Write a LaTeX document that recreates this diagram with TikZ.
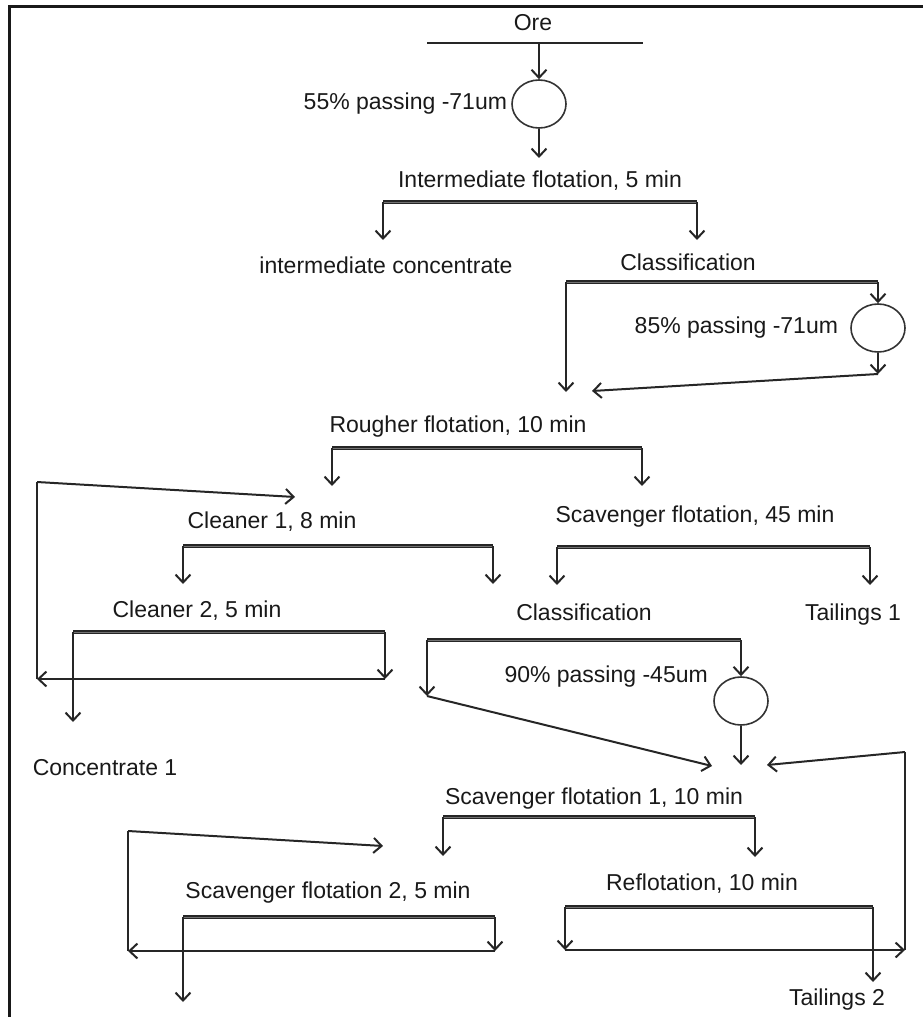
\documentclass[tikz,border=0pt]{standalone}
\usepackage{fontspec}
\setmainfont{Liberation Sans}
\usetikzlibrary{arrows.meta,shapes.geometric,positioning}

\tikzset{
  lbl/.style={font=\fontsize{23}{26}\selectfont, text=black!90, inner sep=0pt, text height=16.5pt, text depth=4.8pt},
  bar/.style={draw=black!85, double=black!55, double distance=1pt, line width=1.4pt},
  flow/.style={draw=black!85, line width=2pt},
  mill/.style={draw=black!80, line width=1.6pt, ellipse, minimum width=54pt, minimum height=48pt, inner sep=0pt},
}

\begin{document}
\begin{tikzpicture}[x=1pt, y=-1pt, >={Straight Barb[length=8pt,width=15pt]}]
    \useasboundingbox (0,0) rectangle (923,1017);
    \draw[line width=3pt, black!90] (9,1017) -- (9,6) -- (923,6);

    % ore and first grinding
    \node[lbl] (ore) at (533,25) {Ore};
    \coordinate (oreL) at (427,43);
    \coordinate (oreR) at (643,43);
    \coordinate (oreC) at (539,43);
    \draw[flow] (oreL) -- (oreR);
    \node[mill] (mill1) at (539,104) {};
    \node[lbl, left=4pt of mill1] (grind1) {55\% passing -71um};
    \coordinate (intIn) at (539,158);
    \draw[flow, ->] (oreC) -- (mill1);
    \draw[flow, ->] (mill1) -- (intIn);

    % intermediate flotation
    \node[lbl] (intFl) at (540,182) {Intermediate flotation, 5 min};
    \coordinate (intL) at (383,202);
    \coordinate (intR) at (697,202);
    \coordinate (intLo) at (383,240);
    \coordinate (intRo) at (697,240);
    \draw[bar] (intL) -- (intR);
    \draw[flow, ->] (intL) -- (intLo);
    \draw[flow, ->] (intR) -- (intRo);
    \node[lbl] (intConc) at (386,268) {intermediate concentrate};
    \node[lbl] (classA) at (688,265) {Classification};

    \coordinate (clAL) at (566,282);
    \coordinate (clAR) at (878,282);
    \coordinate (clALo) at (566,392);
    \draw[bar] (clAL) -- (clAR);
    \draw[flow, ->] (clAL) -- (clALo);
    \node[mill] (mill2) at (878,328) {};
    \node[lbl, left=12pt of mill2] (grind2) {85\% passing -71um};
    \coordinate (mill2o) at (878,374);
    \coordinate (rghIn) at (592,391);
    \draw[flow, ->] (clAR) -- (mill2);
    \draw[flow, ->] (mill2) -- (mill2o);
    \draw[flow, ->] (mill2o) -- (rghIn);

    % rougher flotation
    \node[lbl] (rgh) at (458,427) {Rougher flotation, 10 min};
    \coordinate (rghL) at (332,448);
    \coordinate (rghR) at (642,448);
    \coordinate (rghLo) at (332,486);
    \coordinate (rghRo) at (642,486);
    \draw[bar] (rghL) -- (rghR);
    \draw[flow, ->] (rghL) -- (rghLo);
    \draw[flow, ->] (rghR) -- (rghRo);

    % cleaners
    \node[lbl] (cln1) at (272,523) {Cleaner 1, 8 min};
    \coordinate (c1L) at (183,546);
    \coordinate (c1R) at (493,546);
    \coordinate (c1Lo) at (183,584);
    \coordinate (c1Ro) at (493,584);
    \draw[bar] (c1L) -- (c1R);
    \draw[flow, ->] (c1L) -- (c1Lo);
    \draw[flow, ->] (c1R) -- (c1Ro);

    \node[lbl] (cln2) at (197,612) {Cleaner 2, 5 min};
    \coordinate (c2L) at (73,632);
    \coordinate (c2R) at (385,632);
    \coordinate (c2Lo) at (73,722);
    \coordinate (c2Ro) at (385,679);
    \draw[bar] (c2L) -- (c2R);
    \draw[flow, ->] (c2L) -- (c2Lo);
    \draw[flow, ->] (c2R) -- (c2Ro);
    \node[lbl] (conc1) at (105,770) {Concentrate 1};

    \coordinate (ret1B) at (37,679);
    \coordinate (ret1T) at (37,482);
    \coordinate (c1In) at (295,497);
    \draw[flow, ->] (c2Ro) -- (ret1B);
    \draw[flow] (ret1B) -- (ret1T);
    \draw[flow, ->] (ret1T) -- (c1In);

    % scavenger flotation
    \node[lbl] (scv) at (695,517) {Scavenger flotation, 45 min};
    \coordinate (scL) at (557,547);
    \coordinate (scR) at (870,547);
    \coordinate (scLo) at (557,585);
    \coordinate (scRo) at (870,585);
    \draw[bar] (scL) -- (scR);
    \draw[flow, ->] (scL) -- (scLo);
    \draw[flow, ->] (scR) -- (scRo);
    \node[lbl] (classB) at (584,615) {Classification};
    \node[lbl] (tail1) at (853,615) {Tailings 1};

    \coordinate (clBL) at (427,640);
    \coordinate (clBR) at (741,640);
    \coordinate (clBLo) at (427,696);
    \draw[bar] (clBL) -- (clBR);
    \draw[flow, ->] (clBL) -- (clBLo);
    \node[mill] (mill3) at (741,701) {};
    \node[lbl, anchor=east] (grind3) at (708,677) {90\% passing -45um};
    \coordinate (sc1In) at (741,765);
    \coordinate (sc1InL) at (712,766);
    \coordinate (sc1InR) at (767,765);
    \draw[flow, ->] (clBR) -- (mill3);
    \draw[flow, ->] (mill3) -- (sc1In);
    \draw[flow, ->] (clBLo) -- (sc1InL);

    % scavenger flotation 1 and 2
    \node[lbl] (scv1) at (594,799) {Scavenger flotation 1, 10 min};
    \coordinate (s1L) at (443,817);
    \coordinate (s1R) at (755,817);
    \coordinate (s1Lo) at (443,856);
    \coordinate (s1Ro) at (755,857);
    \draw[bar] (s1L) -- (s1R);
    \draw[flow, ->] (s1L) -- (s1Lo);
    \draw[flow, ->] (s1R) -- (s1Ro);

    \node[lbl] (scv2) at (328,893) {Scavenger flotation 2, 5 min};
    \coordinate (s2L) at (183,917);
    \coordinate (s2R) at (495,917);
    \coordinate (s2Lo) at (183,1002);
    \coordinate (s2Ro) at (495,951);
    \draw[bar] (s2L) -- (s2R);
    \draw[flow, ->] (s2L) -- (s2Lo);
    \draw[flow, ->] (s2R) -- (s2Ro);

    \coordinate (ret2B) at (128,951);
    \coordinate (ret2T) at (128,831);
    \coordinate (s2In) at (383,846);
    \draw[flow, ->] (s2Ro) -- (ret2B);
    \draw[flow] (ret2B) -- (ret2T);
    \draw[flow, ->] (ret2T) -- (s2In);

    % reflotation
    \node[lbl] (rfl) at (702,885) {Reflotation, 10 min};
    \coordinate (rfL) at (565,907);
    \coordinate (rfR) at (873,907);
    \coordinate (rfLo) at (565,950);
    \coordinate (rfRo) at (873,982);
    \draw[bar] (rfL) -- (rfR);
    \draw[flow, ->] (rfL) -- (rfLo);
    \draw[flow, ->] (rfR) -- (rfRo);
    \node[lbl] (tail2) at (837,1000) {Tailings 2};

    \coordinate (ret3B) at (905,950);
    \coordinate (ret3T) at (905,752);
    \draw[flow, ->] (rfLo) -- (ret3B);
    \draw[flow] (ret3B) -- (ret3T);
    \draw[flow, ->] (ret3T) -- (sc1InR);
\end{tikzpicture}
\end{document}
